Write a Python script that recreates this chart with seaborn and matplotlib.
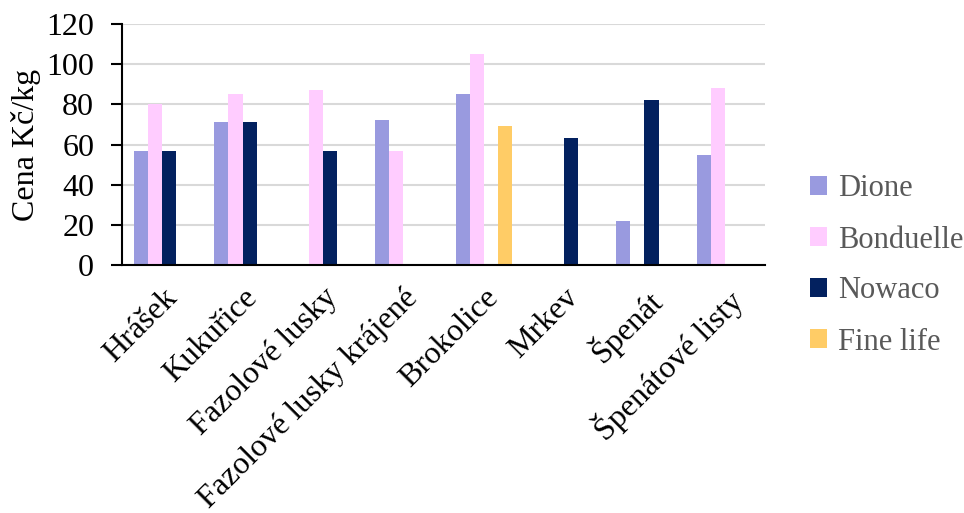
import numpy as np
import pandas as pd
import matplotlib
matplotlib.use("Agg")
import matplotlib.pyplot as plt
import matplotlib.transforms as mtransforms
from matplotlib.patches import Patch
import seaborn as sns

categories = ["Hrášek", "Kukuřice", "Fazolové lusky", "Fazolové lusky krájené",
              "Brokolice", "Mrkev", "Špenát", "Špenátové listy"]
series = ["Dione", "Bonduelle", "Nowaco", "Fine life"]
dione = [57, 71, None, 72, 85, None, 22, 55]
bonduelle = [80, 85, 87, 57, 105, None, None, 88]
nowaco = [57, 71, 57, None, None, 63, 82, None]
fine_life = [None, None, None, None, 69, None, None, None]
colors = ["#999ADF", "#FFCCFF", "#03215F", "#FFCC66"]
yticks = [0, 20, 40, 60, 80, 100, 120]

rows = []
for name, vals in zip(series, [dione, bonduelle, nowaco, fine_life]):
    for c, v in zip(categories, vals):
        rows.append({"cat": c, "series": name, "val": np.nan if v is None else v})
df = pd.DataFrame(rows)

sns.set_theme(style="white")
plt.rcParams["font.family"] = ["Liberation Serif", "DejaVu Serif"]
FS = 23

fig = plt.figure(figsize=(9.64, 5.13), dpi=100)
ax = fig.add_axes([122/964, 1-265/513, (765-122)/964, (265-24)/513])

sns.barplot(data=df, x="cat", y="val", hue="series", order=categories,
            hue_order=series, palette=colors, width=0.7, gap=0,
            saturation=1, linewidth=0, errorbar=None, legend=False, ax=ax)

ax.set_xlim(-0.5, len(categories) - 0.5)
ax.set_ylim(0, 120)
ax.set_yticks(yticks)
ax.set_yticklabels([str(t) for t in yticks], fontsize=FS, color="black")
ax.yaxis.grid(True, color="#D9D9D9", linewidth=1.5)
ax.set_axisbelow(True)

ax.set_xticks(range(len(categories)))
ax.set_xticklabels(categories, rotation=45, ha="right", rotation_mode="anchor",
                   fontsize=FS, color="black")
offset = mtransforms.ScaledTranslation(-5/100, 0, fig.dpi_scale_trans)
for lbl in ax.get_xticklabels():
    lbl.set_transform(lbl.get_transform() + offset)
ax.set_xticks(np.arange(-0.5, len(categories), 1), minor=True)
ax.tick_params(axis="x", which="major", length=0, pad=13)
ax.tick_params(axis="x", which="minor", length=8, width=1.5, color="black", direction="out")
ax.tick_params(axis="y", length=8, width=1.5, color="black", direction="out", pad=12, left=True)

ax.set_xlabel("")
ax.set_ylabel("Cena Kč/kg", fontsize=FS, color="black", labelpad=4)

for s in ["top", "right"]:
    ax.spines[s].set_visible(False)
for s in ["left", "bottom"]:
    ax.spines[s].set_color("black")
    ax.spines[s].set_linewidth(1.5)

handles = [Patch(facecolor=c, edgecolor="none", label=n) for n, c in zip(series, colors)]
leg = fig.legend(handles=handles, loc="center left", bbox_to_anchor=(798/964, 1-265.5/513),
                 frameon=False, fontsize=22, handlelength=0.55, handleheight=0.55,
                 handletextpad=0.35, labelspacing=0.72, borderaxespad=0)
for t in leg.get_texts():
    t.set_color("#595959")

fig.savefig("out.png", dpi=100)
